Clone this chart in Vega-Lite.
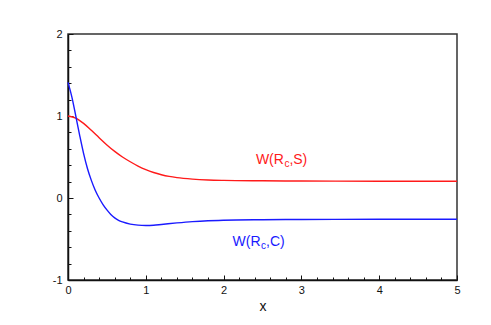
{
  "$schema": "https://vega.github.io/schema/vega-lite/v6.json",
  "autosize": {"type": "none"},
  "width": 389,
  "height": 246,
  "padding": {"left": 68, "top": 34, "right": 34, "bottom": 45},
  "background": "white",
  "config": {
    "view": {"stroke": "#333333", "strokeWidth": 1.5},
    "axis": {
      "grid": false,
      "domainColor": "#111111",
      "domainWidth": 1.5,
      "tickColor": "#111111",
      "tickWidth": 1,
      "labelFont": "Liberation Sans",
      "labelFontSize": 11,
      "labelColor": "#111111",
      "labelOverlap": false,
      "titleFont": "Liberation Sans",
      "titleFontSize": 14,
      "titleFontWeight": "normal",
      "titleColor": "#111111"
    }
  },
  "datasets": {
    "curves": [
      {"x": 0, "y": 1.0, "series": "S"},
      {"x": 0.1, "y": 0.975, "series": "S"},
      {"x": 0.2, "y": 0.91, "series": "S"},
      {"x": 0.3, "y": 0.825, "series": "S"},
      {"x": 0.4, "y": 0.735, "series": "S"},
      {"x": 0.5, "y": 0.647, "series": "S"},
      {"x": 0.6, "y": 0.568, "series": "S"},
      {"x": 0.7, "y": 0.5, "series": "S"},
      {"x": 0.8, "y": 0.442, "series": "S"},
      {"x": 0.9, "y": 0.39, "series": "S"},
      {"x": 1.0, "y": 0.346, "series": "S"},
      {"x": 1.1, "y": 0.311, "series": "S"},
      {"x": 1.2, "y": 0.284, "series": "S"},
      {"x": 1.3, "y": 0.263, "series": "S"},
      {"x": 1.4, "y": 0.248, "series": "S"},
      {"x": 1.6, "y": 0.23, "series": "S"},
      {"x": 1.8, "y": 0.22, "series": "S"},
      {"x": 2.0, "y": 0.215, "series": "S"},
      {"x": 2.5, "y": 0.21, "series": "S"},
      {"x": 3.0, "y": 0.207, "series": "S"},
      {"x": 4.0, "y": 0.205, "series": "S"},
      {"x": 5.0, "y": 0.205, "series": "S"},
      {"x": 0, "y": 1.41, "series": "C"},
      {"x": 0.05, "y": 1.23, "series": "C"},
      {"x": 0.1, "y": 1.0, "series": "C"},
      {"x": 0.15, "y": 0.765, "series": "C"},
      {"x": 0.2, "y": 0.545, "series": "C"},
      {"x": 0.25, "y": 0.36, "series": "C"},
      {"x": 0.3, "y": 0.215, "series": "C"},
      {"x": 0.35, "y": 0.095, "series": "C"},
      {"x": 0.4, "y": 0.0, "series": "C"},
      {"x": 0.45, "y": -0.08, "series": "C"},
      {"x": 0.5, "y": -0.145, "series": "C"},
      {"x": 0.55, "y": -0.2, "series": "C"},
      {"x": 0.6, "y": -0.242, "series": "C"},
      {"x": 0.65, "y": -0.272, "series": "C"},
      {"x": 0.7, "y": -0.292, "series": "C"},
      {"x": 0.8, "y": -0.318, "series": "C"},
      {"x": 0.9, "y": -0.331, "series": "C"},
      {"x": 1.0, "y": -0.335, "series": "C"},
      {"x": 1.1, "y": -0.332, "series": "C"},
      {"x": 1.2, "y": -0.323, "series": "C"},
      {"x": 1.4, "y": -0.304, "series": "C"},
      {"x": 1.6, "y": -0.288, "series": "C"},
      {"x": 1.8, "y": -0.277, "series": "C"},
      {"x": 2.0, "y": -0.271, "series": "C"},
      {"x": 2.5, "y": -0.265, "series": "C"},
      {"x": 3.0, "y": -0.262, "series": "C"},
      {"x": 4.0, "y": -0.26, "series": "C"},
      {"x": 5.0, "y": -0.26, "series": "C"}
    ],
    "labels": [
      {"x": 2.775, "y": 0.42, "head": "W(R", "sub": "c", "tail": ",S)", "series": "S"},
      {"x": 2.475, "y": -0.585, "head": "W(R", "sub": "c", "tail": ",C)", "series": "C"}
    ]
  },
  "layer": [
    {
      "data": {"name": "curves"},
      "mark": {"type": "line", "strokeWidth": 1.4, "interpolate": "monotone"},
      "encoding": {
        "x": {
          "field": "x", "type": "quantitative",
          "scale": {"domain": [0, 5], "nice": false, "zero": false},
          "axis": {
            "title": "x",
            "titlePadding": 2,
            "tickCount": 100,
            "values": [0,0.2,0.4,0.6,0.8,1,1.2,1.4,1.6,1.8,2,2.2,2.4,2.6,2.8,3,3.2,3.4,3.6,3.8,4,4.2,4.4,4.6,4.8,5],
            "labelExpr": "abs(datum.value - round(datum.value)) < 0.001 ? '' + round(datum.value) : ''",
            "tickSize": {"condition": {"test": "abs(datum.value - round(datum.value)) < 0.001", "value": -5}, "value": -3},
            "labelPadding": 9,
            "labelFlush": false
          }
        },
        "y": {
          "field": "y", "type": "quantitative",
          "scale": {"domain": [-1, 2], "nice": false, "zero": false},
          "axis": {
            "title": null,
            "tickCount": 100,
            "values": [-1,-0.8,-0.6,-0.4,-0.2,0,0.2,0.4,0.6,0.8,1,1.2,1.4,1.6,1.8,2],
            "labelExpr": "abs(datum.value - round(datum.value)) < 0.001 ? '' + round(datum.value) : ''",
            "tickSize": {"condition": {"test": "abs(datum.value - round(datum.value)) < 0.001", "value": -5}, "value": -3},
            "labelPadding": 11,
            "labelFlush": false
          }
        },
        "color": {
          "field": "series", "type": "nominal",
          "scale": {"domain": ["S", "C"], "range": ["#ff1a1a", "#1a1aff"]},
          "legend": null
        },
        "detail": {"field": "series"}
      }
    },
    {
      "data": {"name": "labels"},
      "mark": {"type": "text", "align": "right", "baseline": "alphabetic", "font": "Liberation Sans", "fontSize": 14},
      "encoding": {
        "x": {"field": "x", "type": "quantitative"},
        "y": {"field": "y", "type": "quantitative"},
        "text": {"field": "head"},
        "color": {"field": "series", "type": "nominal", "legend": null}
      }
    },
    {
      "data": {"name": "labels"},
      "mark": {"type": "text", "align": "left", "baseline": "alphabetic", "font": "Liberation Sans", "fontSize": 10, "dx": 0.5, "dy": 3},
      "encoding": {
        "x": {"field": "x", "type": "quantitative"},
        "y": {"field": "y", "type": "quantitative"},
        "text": {"field": "sub"},
        "color": {"field": "series", "type": "nominal", "legend": null}
      }
    },
    {
      "data": {"name": "labels"},
      "mark": {"type": "text", "align": "left", "baseline": "alphabetic", "font": "Liberation Sans", "fontSize": 14, "dx": 5.5},
      "encoding": {
        "x": {"field": "x", "type": "quantitative"},
        "y": {"field": "y", "type": "quantitative"},
        "text": {"field": "tail"},
        "color": {"field": "series", "type": "nominal", "legend": null}
      }
    }
  ]
}
